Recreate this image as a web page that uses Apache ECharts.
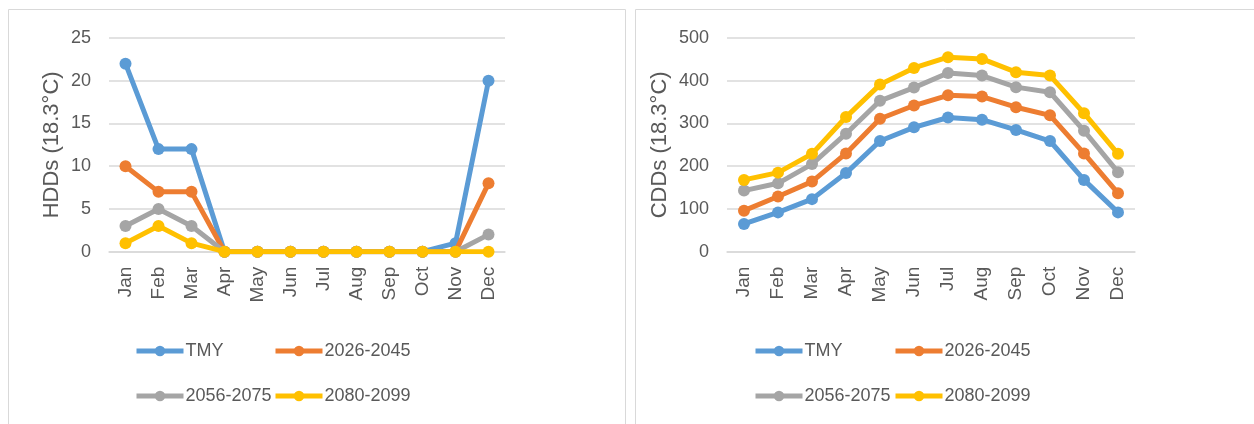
<!DOCTYPE html>
<html><head><meta charset="utf-8">
<script src="https://cdn.jsdelivr.net/npm/echarts@6/dist/echarts.min.js"></script>
<style>html,body{margin:0;padding:0;background:#fff}#c{width:1254px;height:424px}</style>
</head><body><div id="c"></div>
<script>
const months = ['Jan','Feb','Mar','Apr','May','Jun','Jul','Aug','Sep','Oct','Nov','Dec'];
const seriesNames = ['TMY','2026-2045','2056-2075','2080-2099'];
const colors = ['#5B9BD5','#ED7D31','#A5A5A5','#FFC000'];
const hddTMY  = [22,12,12,0,0,0,0,0,0,0,1,20];
const hdd2026 = [10,7,7,0,0,0,0,0,0,0,0,8];
const hdd2056 = [3,5,3,0,0,0,0,0,0,0,0,2];
const hdd2080 = [1,3,1,0,0,0,0,0,0,0,0,0];
const cddTMY  = [65,92,123,184,259,291,314,309,285,259,168,92];
const cdd2026 = [96,129,164,230,311,342,366,363,338,319,230,137];
const cdd2056 = [143,160,205,276,353,384,418,412,385,373,283,186];
const cdd2080 = [168,185,229,315,391,430,455,451,420,412,324,229];
const hddTicks = {min:0,max:25,interval:5};
const cddTicks = {min:0,max:500,interval:100};

const FONT = 'Liberation Sans';
const TXT = '#595959';
const hdd = [hddTMY,hdd2026,hdd2056,hdd2080];
const cdd = [cddTMY,cdd2026,cdd2056,cdd2080];

function mkSeries(arr, idx){
  return arr.map((d,i)=>({
    name: seriesNames[i], type:'line', xAxisIndex: idx, yAxisIndex: idx, data: d,
    symbol:'circle', symbolSize: 12, lineStyle:{width:5,color:colors[i]},
    itemStyle:{color:colors[i]}, color: colors[i], z: 2+i, animation:false
  }));
}
function mkX(idx){
  return {type:'category', gridIndex: idx, data: months, boundaryGap: true,
    axisLine:{show:true,lineStyle:{color:'#d9d9d9',width:1.5}}, axisTick:{show:false},
    axisLabel:{rotate:90, margin:15, color:TXT, fontSize:19, fontFamily:FONT}};
}
function mkY(idx, t, name, gap){
  return {type:'value', gridIndex: idx, min:t.min, max:t.max, interval:t.interval,
    name:name, nameLocation:'middle', nameGap:gap, nameTextStyle:{color:TXT,fontSize:22,fontFamily:FONT},
    axisLine:{show:false}, axisTick:{show:false},
    splitLine:{lineStyle:{color:'#d9d9d9',width:1.5}},
    axisLabel:{margin:18, color:TXT, fontSize:18, fontFamily:FONT}};
}
function mkLegends(xs, ys){
  const out=[];
  seriesNames.forEach((n,i)=>{
    out.push({data:[n], left: xs[i%2], top: ys[Math.floor(i/2)], padding:0, itemWidth:47, itemHeight:13, itemGap:0,
      lineStyle:{width:5},
      textStyle:{color:TXT,fontSize:18,fontFamily:FONT,padding:[0,0,0,-3]}, selectedMode:false});
  });
  return out;
}
const chart = echarts.init(document.getElementById('c'), null, {renderer:'canvas'});
chart.setOption({
  animation:false,
  graphic:[
    {type:'rect', shape:{x:8.5,y:9.5,width:617,height:430}, style:{fill:'none',stroke:'#d9d9d9',lineWidth:1}, silent:true},
    {type:'rect', shape:{x:635.5,y:9.5,width:630,height:430}, style:{fill:'none',stroke:'#d9d9d9',lineWidth:1}, silent:true}
  ],
  grid:[
    {left:109, top:38, width:396, height:213.7},
    {left:727, top:38, width:408, height:213.7}
  ],
  xAxis:[mkX(0), mkX(1)],
  yAxis:[mkY(0,hddTicks,'HDDs (18.3°C)',46), mkY(1,cddTicks,'CDDs (18.3°C)',56)],
  legend:[...mkLegends([134,273],[342,387]), ...mkLegends([753,893],[342,387])],
  series:[...mkSeries(hdd,0), ...mkSeries(cdd,1)]
});
</script></body></html>
